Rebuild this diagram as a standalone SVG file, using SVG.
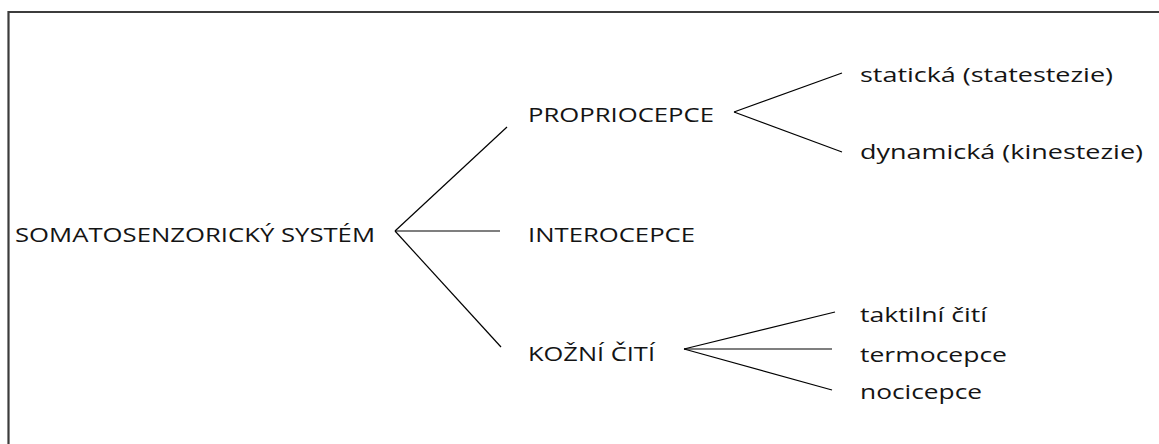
<svg xmlns="http://www.w3.org/2000/svg" width="1159" height="444" viewBox="0 0 1159 444">
<style>
text{font-family:"Open Sans","Noto Sans","Liberation Sans",sans-serif;font-size:19.5px;fill:#141414}
.c line{stroke:#000;stroke-width:1.2;fill:none}
.frame{stroke:#3c3c3c;stroke-width:2.2;fill:none}
</style>
<rect width="1159" height="444" fill="#fff"/>
<path class="frame" d="M8.5,444 V12 H1159"/>
<g class="c" id="connectors">
<line x1="395" y1="231" x2="507" y2="127"/>
<line x1="395" y1="231" x2="500" y2="231"/>
<line x1="395" y1="231" x2="501" y2="347"/>
<line x1="734" y1="112" x2="842" y2="73"/>
<line x1="734" y1="112" x2="842" y2="152"/>
<line x1="684" y1="349" x2="835" y2="312"/>
<line x1="684" y1="349" x2="832" y2="349"/>
<line x1="684" y1="349" x2="832" y2="390"/>
</g>
<g id="root"><text x="15" y="242" textLength="360" lengthAdjust="spacingAndGlyphs">SOMATOSENZORICKÝ SYSTÉM</text></g>
<g id="propriocepce"><text x="528" y="122" textLength="186" lengthAdjust="spacingAndGlyphs">PROPRIOCEPCE</text></g>
<g id="interocepce"><text x="528" y="242" textLength="167" lengthAdjust="spacingAndGlyphs">INTEROCEPCE</text></g>
<g id="kozni"><text x="528" y="361" textLength="127" lengthAdjust="spacingAndGlyphs">KOŽNÍ ČITÍ</text></g>
<g id="staticka"><text x="860" y="82" textLength="253" lengthAdjust="spacingAndGlyphs">statická (statestezie)</text></g>
<g id="dynamicka"><text x="860" y="159" textLength="283" lengthAdjust="spacingAndGlyphs">dynamická (kinestezie)</text></g>
<g id="taktilni"><text x="860" y="322" textLength="127" lengthAdjust="spacingAndGlyphs">taktilní čití</text></g>
<g id="termocepce"><text x="860" y="362" textLength="147" lengthAdjust="spacingAndGlyphs">termocepce</text></g>
<g id="nocicepce"><text x="860" y="399" textLength="122" lengthAdjust="spacingAndGlyphs">nocicepce</text></g>
</svg>
